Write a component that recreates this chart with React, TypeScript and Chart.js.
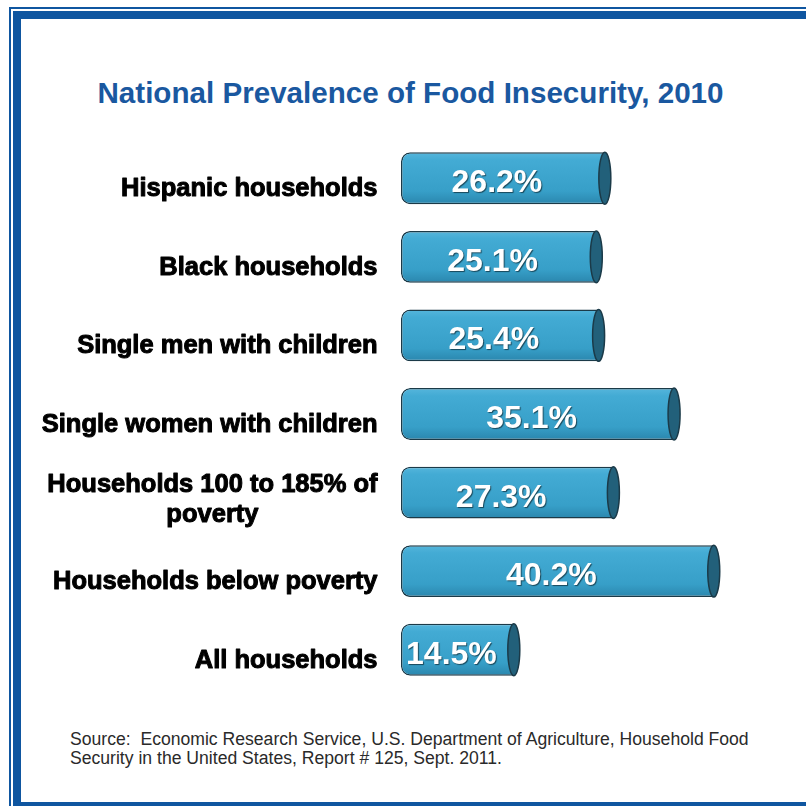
import React, { useEffect, useRef } from 'react';
import { Chart, registerables } from 'chart.js';

Chart.register(...registerables);

const categories: string[][] = [
  ['Hispanic households'],
  ['Black households'],
  ['Single men with children'],
  ['Single women with children'],
  ['Households 100 to 185% of', 'poverty'],
  ['Households below poverty'],
  ['All households'],
];
const prevalence: number[] = [26.2, 25.1, 25.4, 35.1, 27.3, 40.2, 14.5];

const TITLE = 'National Prevalence of Food Insecurity, 2010';
const SOURCE_LINES = [
  'Source:  Economic Research Service, U.S. Department of Agriculture, Household Food',
  'Security in the United States, Report # 125, Sept. 2011.',
];

const FONT = '"Liberation Sans", Arial, Helvetica, sans-serif';
const FRAME_BLUE = '#0f56a0';
const BAR_EDGE = '#1b3a48';

// cylinder cap at the right end + value text
const cylinderPlugin = {
  id: 'cylinder',
  afterDatasetsDraw(chart: Chart) {
    const ctx = chart.ctx;
    const meta = chart.getDatasetMeta(0);
    meta.data.forEach((el: any, i: number) => {
      const { x, y, base, height } = el.getProps(['x', 'y', 'base', 'height'], true);
      ctx.save();
      ctx.beginPath();
      ctx.ellipse(x, y, 6, height / 2, 0, 0, Math.PI * 2);
      ctx.fillStyle = '#22607a';
      ctx.fill();
      ctx.lineWidth = 1.5;
      ctx.strokeStyle = BAR_EDGE;
      ctx.stroke();

      const label = prevalence[i].toFixed(1) + '%';
      ctx.font = `bold 32px ${FONT}`;
      ctx.textAlign = 'center';
      ctx.textBaseline = 'alphabetic';
      ctx.shadowColor = 'rgba(0,0,0,0.55)';
      ctx.shadowOffsetX = 1;
      ctx.shadowOffsetY = 1;
      ctx.shadowBlur = 1;
      ctx.fillStyle = '#ffffff';
      ctx.fillText(label, (x + base) / 2 - 6, y + 14);
      ctx.restore();
    });
  },
};

// category labels: right aligned, wrapped lines centred under the first
const categoryPlugin = {
  id: 'categoryLabels',
  afterDraw(chart: Chart) {
    const ctx = chart.ctx;
    const yScale = chart.scales.y;
    const right = chart.chartArea.left - 23.5;
    ctx.save();
    ctx.font = `bold 25.5px ${FONT}`;
    ctx.fillStyle = '#000000';
    ctx.strokeStyle = '#000000';
    ctx.lineWidth = 1;
    ctx.lineJoin = 'round';
    ctx.textBaseline = 'alphabetic';
    const put = (t: string, x: number, y: number) => {
      ctx.fillText(t, x, y);
      ctx.strokeText(t, x, y);
    };
    categories.forEach((lines, i) => {
      const cy = yScale.getPixelForValue(i);
      if (lines.length === 1) {
        ctx.textAlign = 'right';
        put(lines[0], right, cy + 18);
      } else {
        const w = ctx.measureText(lines[0]).width;
        const mid = right - w / 2;
        ctx.textAlign = 'right';
        put(lines[0], right, cy - 1);
        ctx.textAlign = 'center';
        for (let k = 1; k < lines.length; k++) {
          put(lines[k], mid, cy - 1 + 30 * k);
        }
      }
    });
    ctx.restore();
  },
};

const BarChart: React.FC = () => {
  const chartRef = useRef<HTMLCanvasElement>(null);
  const chartInstance = useRef<Chart | null>(null);

  useEffect(() => {
    if (!chartRef.current) return;
    if (chartInstance.current) chartInstance.current.destroy();

    chartInstance.current = new Chart(chartRef.current, {
      type: 'bar',
      data: {
        labels: categories.map((c) => c.join(' ')),
        datasets: [
          {
            data: prevalence,
            backgroundColor: (c: any) => {
              const chart = c.chart;
              const area = chart.chartArea;
              if (!area) return '#3aa2cb';
              const band = (area.bottom - area.top) / categories.length;
              const h = band * 0.66;
              const yc = chart.scales.y.getPixelForValue(c.dataIndex);
              const g = chart.ctx.createLinearGradient(0, yc - h / 2, 0, yc + h / 2);
              g.addColorStop(0, '#56b6dc');
              g.addColorStop(0.15, '#43abd4');
              g.addColorStop(0.75, '#379fc8');
              g.addColorStop(1, '#2a86ad');
              return g;
            },
            borderColor: BAR_EDGE,
            borderWidth: 1.5,
            borderSkipped: false,
            borderRadius: { topLeft: 9, bottomLeft: 9, topRight: 0, bottomRight: 0 },
            barPercentage: 0.66,
            categoryPercentage: 1,
          },
        ],
      },
      options: {
        indexAxis: 'y',
        responsive: true,
        maintainAspectRatio: false,
        animation: false,
        layout: { padding: { left: 401, right: 16, top: 139, bottom: 117 } },
        plugins: {
          legend: { display: false },
          title: { display: false },
          tooltip: { enabled: false },
        },
        scales: {
          x: { min: 0, max: 50, display: false },
          y: { display: false, grid: { display: false } },
        },
      },
      plugins: [cylinderPlugin, categoryPlugin],
    });

    return () => {
      if (chartInstance.current) {
        chartInstance.current.destroy();
        chartInstance.current = null;
      }
    };
  }, []);

  return (
    <div style={{ position: 'absolute', left: 0, top: 0, width: 806, height: 806 }}>
      <canvas ref={chartRef}></canvas>
    </div>
  );
};

export default function App() {
  return (
    <div
      style={{
        position: 'fixed',
        left: 0,
        top: 0,
        width: 806,
        height: 806,
        overflow: 'hidden',
        background: '#ffffff',
        fontFamily: FONT,
      }}
    >
      {/* double frame, cut off at the right and bottom */}
      <div
        style={{
          position: 'absolute',
          left: 9,
          top: 7,
          width: 900,
          height: 900,
          border: `2px solid ${FRAME_BLUE}`,
        }}
      />
      <div
        style={{
          position: 'absolute',
          left: 13,
          top: 11,
          width: 900,
          height: 783,
          border: `8px solid ${FRAME_BLUE}`,
        }}
      />
      <div
        style={{
          position: 'absolute',
          left: 0,
          top: 78,
          width: 821,
          textAlign: 'center',
          fontSize: 29.6,
          lineHeight: '29px',
          fontWeight: 'bold',
          color: '#1a58a0',
          whiteSpace: 'nowrap',
        }}
      >
        {TITLE}
      </div>
      <div
        style={{
          position: 'absolute',
          left: 70,
          top: 730,
          fontSize: 17.6,
          lineHeight: '19px',
          color: '#2a2a2a',
          whiteSpace: 'pre',
        }}
      >
        {SOURCE_LINES.map((l) => (
          <div key={l}>{l}</div>
        ))}
      </div>
      <BarChart />
    </div>
  );
}
